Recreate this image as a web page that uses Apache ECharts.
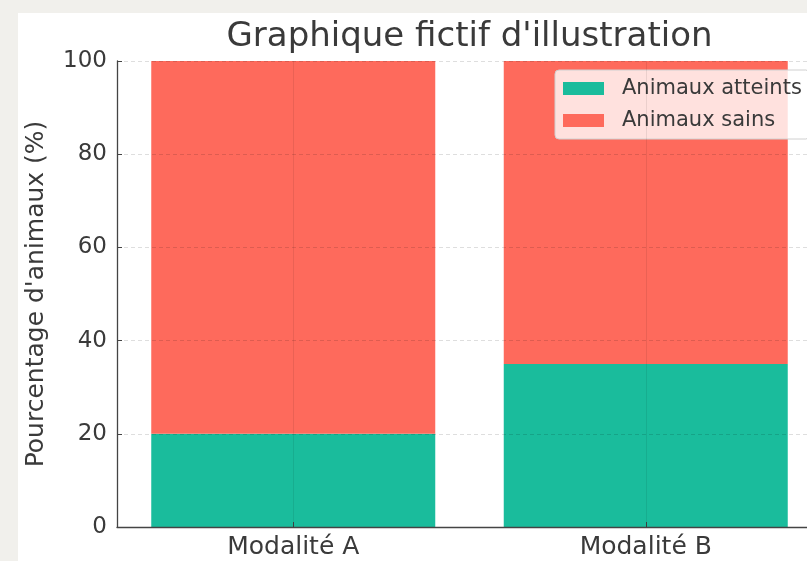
<!DOCTYPE html>
<html>
<head>
<meta charset="utf-8">
<script src="https://cdn.jsdelivr.net/npm/echarts@6/dist/echarts.min.js"></script>
<style>
  html, body { margin: 0; padding: 0; background: #f1f0ec; overflow: hidden; }
  #chart { width: 822px; height: 561px; }
</style>
</head>
<body>
<div id="chart"></div>
<script>
  // donnees
  var categories = ['Modalité A', 'Modalité B'];
  var atteints = [20, 35];
  var sains = [80, 65];
  var yTicks = [0, 20, 40, 60, 80, 100];

  var fontFam = '"DejaVu Sans", sans-serif';
  var txtColor = '#3a3a3a';
  var gridLine = 'rgba(0,0,0,0.13)';

  var myChart = echarts.init(document.getElementById('chart'));

  var option = {
    animation: false,
    textStyle: { fontFamily: fontFam },
    graphic: [
      {
        type: 'rect',
        z: -100,
        shape: { x: 18, y: 13, width: 820, height: 561 },
        style: { fill: '#ffffff' }
      },
      {
        type: 'text',
        x: 469.5,
        y: 37,
        style: {
          text: "Graphique fictif d'illustration",
          fontSize: 34,
          fontFamily: fontFam,
          fill: txtColor,
          align: 'center',
          verticalAlign: 'middle'
        }
      }
    ],
    legend: {
      orient: 'vertical',
      left: 555,
      top: 70,
      padding: 8,
      itemGap: 11,
      itemWidth: 41,
      itemHeight: 13,
      backgroundColor: 'rgba(255,255,255,0.8)',
      borderColor: '#d0d0d0',
      borderWidth: 1,
      borderRadius: 4,
      icon: 'rect',
      textStyle: {
        fontSize: 21,
        color: txtColor,
        fontFamily: fontFam,
        padding: [0, 0, 0, 13]
      },
      data: ['Animaux atteints', 'Animaux sains']
    },
    grid: {
      left: 117,
      right: 0,
      top: 61,
      bottom: 34,
      containLabel: false
    },
    xAxis: {
      type: 'category',
      data: categories,
      z: 5,
      axisLine: { show: true, lineStyle: { color: '#444', width: 1.3 } },
      axisTick: { show: true, inside: true, length: 5, alignWithLabel: true, lineStyle: { color: '#444' } },
      axisLabel: { fontSize: 25, color: txtColor, margin: 8, fontFamily: fontFam },
      splitLine: { show: false }
    },
    yAxis: {
      type: 'value',
      min: 0,
      max: 100,
      interval: 20,
      z: 5,
      name: "Pourcentage d'animaux (%)",
      nameLocation: 'middle',
      nameGap: 68,
      nameTextStyle: { fontSize: 25, color: txtColor, fontFamily: fontFam },
      axisLine: { show: true, lineStyle: { color: '#444', width: 1.3 } },
      axisTick: { show: true, inside: true, length: 5, lineStyle: { color: '#444' } },
      axisLabel: {
        fontSize: 23,
        color: txtColor,
        margin: 10,
        fontFamily: fontFam,
        formatter: function (v) { return yTicks.indexOf(v) >= 0 ? String(v) : ''; }
      },
      splitLine: { show: true, lineStyle: { color: gridLine, type: [4, 3], width: 1 } }
    },
    series: [
      {
        name: 'Animaux atteints',
        type: 'bar',
        stack: 'total',
        barWidth: 284,
        itemStyle: { color: '#1abc9c' },
        data: atteints,
        markLine: {
          silent: true,
          symbol: 'none',
          z: 6,
          label: { show: false },
          lineStyle: { color: 'rgba(0,0,0,0.08)', type: 'solid', width: 1 },
          data: categories.map(function (c) { return { xAxis: c }; })
        }
      },
      {
        name: 'Animaux sains',
        type: 'bar',
        stack: 'total',
        barWidth: 284,
        itemStyle: { color: '#fe6a5c' },
        data: sains
      }
    ]
  };

  myChart.setOption(option);
</script>
</body>
</html>
